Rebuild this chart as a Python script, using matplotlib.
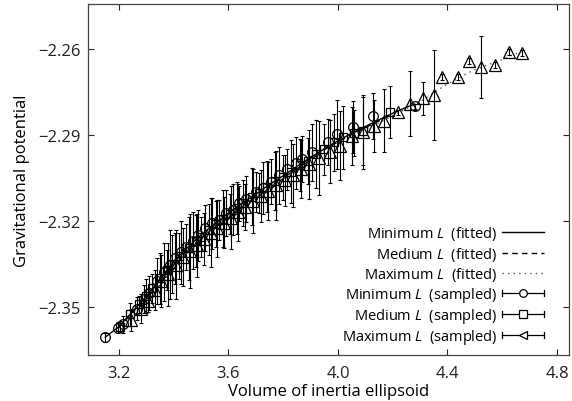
import numpy as np
import matplotlib
matplotlib.use("Agg")
import matplotlib.pyplot as plt
from matplotlib.legend_handler import HandlerBase
from matplotlib.lines import Line2D

plt.rcParams['font.family'] = ['Open Sans', 'DejaVu Sans']
plt.rcParams['mathtext.fontset'] = 'custom'
plt.rcParams['mathtext.rm'] = 'Open Sans'
plt.rcParams['mathtext.it'] = 'Open Sans:italic'

# sampled data: minimum L (circles)
min_x = [3.150, 3.195, 3.215, 3.265, 3.290, 3.310, 3.340, 3.365, 3.385, 3.405,
         3.425, 3.445, 3.470, 3.490, 3.515, 3.540, 3.565, 3.590, 3.615, 3.640,
         3.665, 3.700, 3.725, 3.755, 3.785, 3.815, 3.845, 3.870, 3.905, 3.963,
         3.996, 4.055, 4.127, 4.281]
min_y = [-2.3605, -2.3572, -2.3560, -2.3505, -2.3472, -2.3450, -2.3410, -2.3378, -2.3352, -2.3330,
         -2.3308, -2.3290, -2.3268, -2.3250, -2.3225, -2.3208, -2.3195, -2.3172, -2.3160, -2.3138,
         -2.3122, -2.3100, -2.3085, -2.3062, -2.3040, -2.3020, -2.2998, -2.2985, -2.2960, -2.2924,
         -2.2897, -2.2872, -2.2834, -2.2800]
min_err = [0.0015, 0.002, 0.003, 0.004, 0.005, 0.006, 0.008, 0.010, 0.012, 0.009,
           0.011, 0.008, 0.010, 0.009, 0.008, 0.009, 0.007, 0.008, 0.009, 0.006,
           0.008, 0.007, 0.009, 0.008, 0.010, 0.007, 0.009, 0.008, 0.010, 0.008,
           0.012, 0.009, 0.008, 0.001]

# medium L (squares)
med_x = [3.205, 3.240, 3.275, 3.300, 3.320, 3.350, 3.375, 3.395, 3.420, 3.455,
         3.480, 3.500, 3.530, 3.555, 3.580, 3.605, 3.630, 3.655, 3.685, 3.710,
         3.740, 3.770, 3.800, 3.830, 3.860, 3.890, 3.920, 3.950, 3.985, 4.020,
         4.060, 4.090, 4.190]
med_y = [-2.3568, -2.3525, -2.3490, -2.3462, -2.3434, -2.3400, -2.3372, -2.3350, -2.3322, -2.3295,
         -2.3270, -2.3255, -2.3230, -2.3210, -2.3192, -2.3175, -2.3155, -2.3138, -2.3115, -2.3102,
         -2.3080, -2.3060, -2.3048, -2.3028, -2.3005, -2.2990, -2.2966, -2.2950, -2.2925, -2.2908,
         -2.2892, -2.2886, -2.2820]
med_err = [0.002, 0.004, 0.003, 0.006, 0.005, 0.009, 0.007, 0.010, 0.008, 0.011,
           0.009, 0.007, 0.009, 0.008, 0.010, 0.007, 0.009, 0.008, 0.010, 0.007,
           0.009, 0.010, 0.008, 0.011, 0.009, 0.008, 0.012, 0.009, 0.010, 0.011,
           0.008, 0.012, 0.009]

# maximum L (triangles)
max_x = [3.245, 3.280, 3.305, 3.330, 3.355, 3.380, 3.410, 3.435, 3.460, 3.485,
         3.510, 3.535, 3.560, 3.585, 3.610, 3.635, 3.660, 3.690, 3.720, 3.745,
         3.775, 3.805, 3.835, 3.865, 3.895, 3.930, 3.970, 4.006, 4.053, 4.090,
         4.132, 4.170, 4.220, 4.263, 4.312, 4.351, 4.381, 4.439, 4.478, 4.523,
         4.573, 4.626, 4.671]
max_y = [-2.3545, -2.3505, -2.3478, -2.3440, -2.3410, -2.3385, -2.3352, -2.3325, -2.3305, -2.3285,
         -2.3262, -2.3240, -2.3225, -2.3205, -2.3188, -2.3170, -2.3152, -2.3130, -2.3112, -2.3095,
         -2.3075, -2.3058, -2.3040, -2.3018, -2.3002, -2.2980, -2.2958, -2.2937, -2.2903, -2.2890,
         -2.2868, -2.2850, -2.2821, -2.2790, -2.2772, -2.2760, -2.2697, -2.2697, -2.2643, -2.2664,
         -2.2656, -2.2610, -2.2615]
max_err = [0.004, 0.005, 0.004, 0.007, 0.009, 0.011, 0.012, 0.010, 0.013, 0.011,
           0.009, 0.012, 0.010, 0.009, 0.011, 0.010, 0.008, 0.011, 0.009, 0.010,
           0.012, 0.009, 0.011, 0.010, 0.012, 0.013, 0.011, 0.012, 0.010, 0.013,
           0.009, 0.011, 0.001, 0.0115, 0.0058, 0.0156, 0.001, 0.001, 0.001, 0.0108,
           0.001, 0.001, 0.001]

# fitted curves
fit_min_x = [3.15, 3.20, 3.25, 3.30, 3.35, 3.40, 3.45, 3.50, 3.55, 3.60, 3.65, 3.70,
             3.75, 3.80, 3.85, 3.90, 3.95, 4.00, 4.05, 4.10, 4.15, 4.20, 4.25, 4.28]
fit_min_y = [-2.3605, -2.3568, -2.3515, -2.3462, -2.3402, -2.3340, -2.3293, -2.3248, -2.3209,
             -2.3172, -2.3137, -2.3106, -2.3072, -2.3042, -2.3010, -2.2978, -2.2948, -2.2920,
             -2.2894, -2.2870, -2.2847, -2.2824, -2.2803, -2.2792]
fit_med_x = [3.20, 3.25, 3.30, 3.35, 3.40, 3.45, 3.50, 3.55, 3.60, 3.65, 3.70, 3.75,
             3.80, 3.85, 3.90, 3.95, 4.00, 4.05, 4.10, 4.15, 4.19]
fit_med_y = [-2.3570, -2.3518, -2.3465, -2.3405, -2.3344, -2.3297, -2.3252, -2.3213, -2.3177,
             -2.3142, -2.3110, -2.3076, -2.3046, -2.3013, -2.2981, -2.2951, -2.2924, -2.2898,
             -2.2874, -2.2851, -2.2832]
fit_max_x = [3.24, 3.30, 3.35, 3.40, 3.45, 3.50, 3.55, 3.60, 3.65, 3.70, 3.75, 3.80,
             3.85, 3.90, 3.95, 4.00, 4.05, 4.10, 4.15, 4.20, 4.25, 4.30, 4.40, 4.49,
             4.556, 4.60, 4.646, 4.671]
fit_max_y = [-2.3532, -2.3470, -2.3410, -2.3350, -2.3302, -2.3258, -2.3218, -2.3182, -2.3147,
             -2.3115, -2.3082, -2.3052, -2.3020, -2.2988, -2.2958, -2.2930, -2.2904, -2.2880,
             -2.2857, -2.2833, -2.2808, -2.2784, -2.2722, -2.2676, -2.2652, -2.2637, -2.2617,
             -2.2612]


class HandlerErrLine(HandlerBase):
    # horizontal line with end ticks and a marker in the middle
    def __init__(self, marker):
        super().__init__()
        self.marker = marker

    def create_artists(self, legend, orig_handle, xdescent, ydescent,
                       width, height, fontsize, trans):
        y = height / 2 - ydescent
        x0, x1 = -xdescent, width - xdescent
        t = 2.0
        arts = [Line2D([x0, x1], [y, y], color='black', lw=0.9),
                Line2D([x0, x0], [y - t, y + t], color='black', lw=0.9),
                Line2D([x1, x1], [y - t, y + t], color='black', lw=0.9),
                Line2D([(x0 + x1) / 2], [y], marker=self.marker, ms=5.5,
                       mfc='white', mec='black', mew=0.9, ls='none')]
        for a in arts:
            a.set_transform(trans)
        return arts


fig = plt.figure(figsize=(5.72, 4.02), dpi=100)
ax = fig.add_axes([88 / 572, 46 / 402, 481 / 572, 351 / 402])

l1, = ax.plot(fit_min_x, fit_min_y, color='black', lw=1.0, ls='-')
l2, = ax.plot(fit_med_x, fit_med_y, color='black', lw=1.0, ls=(0, (4, 3)))
l3, = ax.plot(fit_max_x, fit_max_y, color='#555555', lw=1.0, ls=(0, (1, 3)))

ekw = dict(fmt='none', ecolor='black', elinewidth=0.8, capsize=1.5, capthick=0.8)
ax.errorbar(min_x, min_y, yerr=min_err, **ekw)
ax.errorbar(med_x, med_y, yerr=med_err, **ekw)
ax.errorbar(max_x, max_y, yerr=max_err, **ekw)
mkw = dict(ls='none', mfc='none', mec='black', mew=0.9)
ax.plot(min_x, min_y, marker='o', ms=7, **mkw)
ax.plot(med_x, med_y, marker='s', ms=6, **mkw)
ax.plot(max_x, max_y, marker='^', ms=9, **mkw)

ax.set_xlim(3.087, 4.844)
ax.set_ylim(-2.3667, -2.2443)
ax.set_xticks([3.2, 3.6, 4.0, 4.4, 4.8])
ax.set_xticklabels(['3.2', '3.6', '4.0', '4.4', '4.8'])
ax.set_yticks([-2.35, -2.32, -2.29, -2.26])
ax.set_yticklabels(['\u22122.35', '\u22122.32', '\u22122.29', '\u22122.26'])
ax.tick_params(direction='in', top=True, right=True, length=4, width=0.8,
               labelsize=12, pad=5, colors='#222222')
ax.tick_params(axis='x', pad=7)
for s in ax.spines.values():
    s.set_linewidth(0.9)
    s.set_color('#444444')

ax.set_xlabel('Volume of inertia ellipsoid', fontsize=12, labelpad=2)
ax.set_ylabel('Gravitational potential', fontsize=12, labelpad=6)

h4, h5, h6 = object(), object(), object()
handles = [l1, l2, l3, h4, h5, h6]
labels = ['Minimum $L$  (fitted)', 'Medium $L$  (fitted)', 'Maximum $L$  (fitted)',
          'Minimum $L$  (sampled)', 'Medium $L$  (sampled)', 'Maximum $L$  (sampled)']
leg = ax.legend(handles, labels, loc='upper right', bbox_to_anchor=(0.948, 0.372),
                frameon=False, markerfirst=False, fontsize=10.5, borderpad=0,
                borderaxespad=0, handlelength=2.9, handletextpad=0.3,
                labelspacing=0.15,
                handler_map={h4: HandlerErrLine('o'), h5: HandlerErrLine('s'),
                             h6: HandlerErrLine('<')})
for t in leg.get_texts():
    t.set_ha('right')

fig.savefig('out.png', dpi=100)
